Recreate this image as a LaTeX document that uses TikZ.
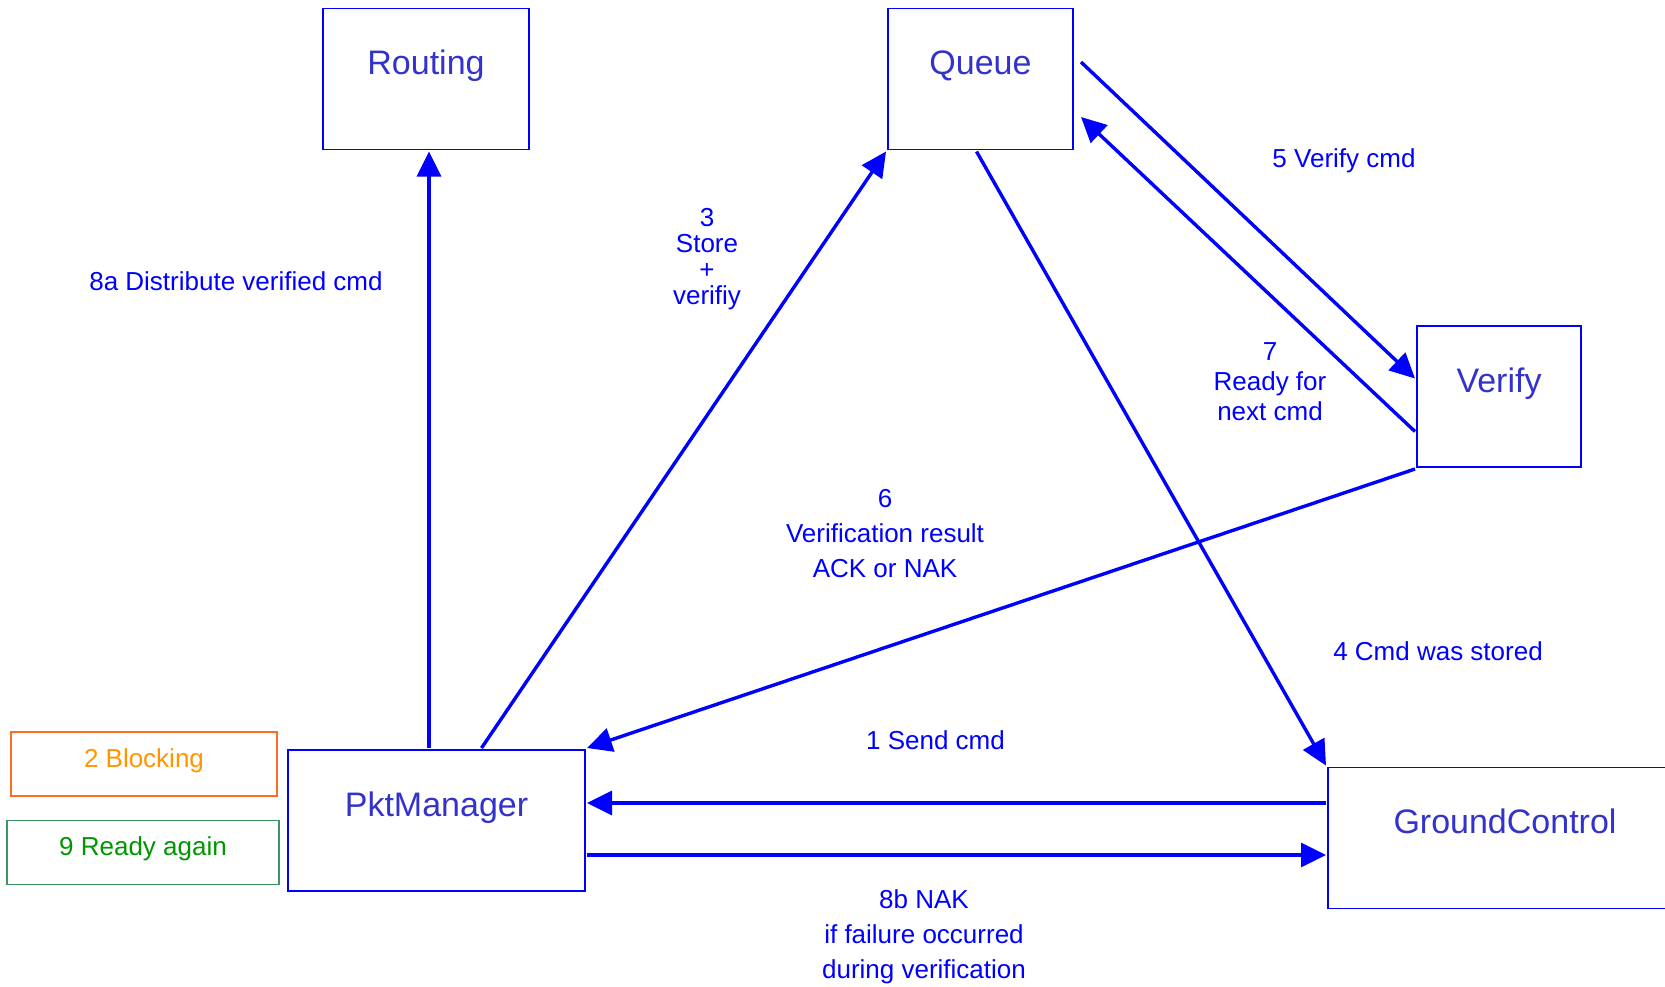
\documentclass[tikz,border=0pt]{standalone}
\usepackage{fontspec}
\setmainfont{Liberation Sans}
\usepackage{xcolor}
\usepackage{tikz}
\usetikzlibrary{arrows.meta,positioning,calc}
\definecolor{lineblue}{RGB}{0,0,255}
\definecolor{nameblue}{RGB}{51,51,204}
\definecolor{blockorange}{RGB}{255,110,30}
\definecolor{blocktext}{RGB}{255,150,0}
\definecolor{readygreen}{RGB}{60,150,100}
\definecolor{readytext}{RGB}{0,150,0}

\begin{document}
\begin{tikzpicture}[
    x=1pt, y=-1pt,
    comp/.style={draw=lineblue, line width=1.8pt, inner sep=0pt, outer sep=2pt,
        text=nameblue, font=\fontsize{34}{40}\selectfont,
        text height=66pt, text depth=75pt},
    state/.style={line width=1.8pt, inner sep=0pt, minimum width=266pt,
        font=\fontsize{26}{32}\selectfont, text height=35pt, text depth=29pt},
    lbl/.style={text=lineblue, align=center, font=\fontsize{26}{35}\selectfont},
    edge/.style={-{Triangle[length=25pt,width=24pt]}, line width=3.4pt, draw=lineblue}
]
\useasboundingbox (0,0) rectangle (1665,986);

% components
\node[comp, minimum width=206pt] (rout) at (426,79) {Routing};
\node[comp, minimum width=185pt] (queue) at (980.5,79) {Queue};
\node[comp, minimum width=164pt] (verify) at (1499,396.5) {Verify};
\node[comp, minimum width=297pt] (pkt) at (436.5,820.5) {PktManager};
\node[comp, minimum width=354pt] (ground) at (1505,838) {GroundControl};

% states of the manager
\node[state, draw=blockorange, text=blocktext] (block) at (144,764) {2 Blocking};
\node[state, draw=readygreen, text=readytext, minimum width=272pt] (ready) at (143,852.5) {9 Ready again};

% messages
\coordinate (routin) at ([xshift=3pt]rout.south);
\draw[edge] ([yshift=35pt]ground.west) -- ([yshift=35pt]ground.west -| pkt.east);
\draw[edge] ([xshift=45pt]pkt.north) -- (queue.south west);
\draw[edge] ([xshift=-4pt]queue.south) -- (ground.north west);
\draw[edge] ([xshift=6pt,yshift=17pt]queue.east) -- ([yshift=18pt]verify.west);
\draw[edge] (verify.south west) -- (pkt.north east);
\draw[edge] ([yshift=-35pt]verify.west) -- ([xshift=6pt,yshift=-38pt]queue.east);
\draw[edge] (pkt.north -| routin) -- (routin);
\draw[edge] ([yshift=-34.5pt]pkt.east) -- ([yshift=-34.5pt]pkt.east -| ground.west);

\node[lbl] (l1) at (935.5,740) {1 Send cmd};
\node[lbl, font=\fontsize{26}{26}\selectfont] (l3) at (707,259) {3\\Store\\+\\verifiy};
\node[lbl] (l4) at (1438,651) {4 Cmd was stored};
\node[lbl] (l5) at (1344,161) {5 Verify cmd};
\node[lbl] (l6) at (885,534) {6\\Verification result\\ACK or NAK};
\node[lbl, font=\fontsize{26}{30}\selectfont] (l7) at (1270,382) {7\\Ready for\\next cmd};
\node[lbl] (l8a) at (236,281) {8a Distribute verified cmd};
\node[lbl] (l8b) at (924,937) {8b NAK\\if failure occurred\\during verification};
\end{tikzpicture}
\end{document}
